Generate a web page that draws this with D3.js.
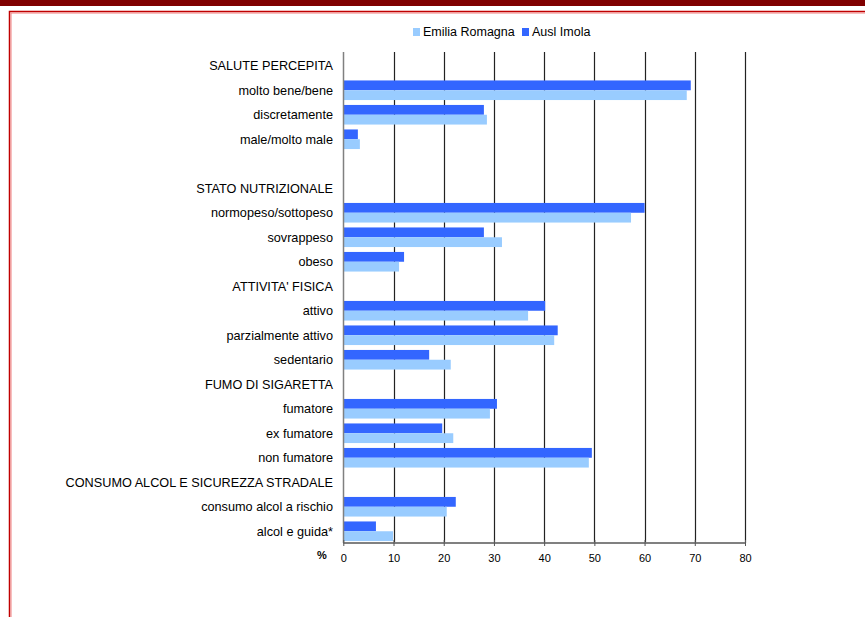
<!DOCTYPE html>
<html>
<head>
<meta charset="utf-8">
<script src="https://cdn.jsdelivr.net/npm/d3@7"></script>
<style>
  body { margin: 0; background: #fff; }
  text { font-family: "Liberation Sans", Arial, sans-serif; fill: #000; }
</style>
</head>
<body>
<svg id="chart" width="865" height="617"></svg>
<script>
// Categories top to bottom (blank row after the first group)
var categories = [
  "SALUTE PERCEPITA", "molto bene/bene", "discretamente", "male/molto male", "",
  "STATO NUTRIZIONALE", "normopeso/sottopeso", "sovrappeso", "obeso",
  "ATTIVITA' FISICA", "attivo", "parzialmente attivo", "sedentario",
  "FUMO DI SIGARETTA", "fumatore", "ex fumatore", "non fumatore",
  "CONSUMO ALCOL E SICUREZZA STRADALE", "consumo alcol a rischio", "alcol e guida*"
];
var auslImola = [null, 69.2, 28.0, 2.9, null, null, 60.0, 28.0, 12.1, null, 40.2, 42.7, 17.1, null, 30.6, 19.7, 49.5, null, 22.4, 6.5];
var emiliaRomagna = [null, 68.4, 28.6, 3.3, null, null, 57.3, 31.6, 11.1, null, 36.8, 42.0, 21.4, null, 29.2, 21.9, 48.9, null, 20.6, 9.9];
var seriesNames = ["Emilia Romagna", "Ausl Imola"];
var xTicks = [0, 10, 20, 30, 40, 50, 60, 70, 80];

var colors = { "Emilia Romagna": "#99ccff", "Ausl Imola": "#3366ff" };

var svg = d3.select('#chart');

// page frame
svg.append('rect').attr('x', 0).attr('y', 0).attr('width', 865).attr('height', 6)
    .attr('fill', '#800000');
svg.append('rect').attr('x', 9.5).attr('y', 11.5).attr('width', 900).attr('height', 700)
    .attr('fill', 'none').attr('stroke', '#c00000').attr('stroke-width', 1.5);
svg.append('rect').attr('x', 11).attr('y', 13).attr('width', 900).attr('height', 700)
    .attr('fill', 'none').attr('stroke', '#f08080').attr('stroke-width', 1);

// scales
var x = d3.scaleLinear().domain([0, 80]).range([343.3, 745]);
var y = d3.scaleBand().domain(d3.range(categories.length)).range([53.5, 543.5])
    .paddingInner(0.2).paddingOuter(0.1);
var ySub = d3.scaleBand().domain(["Ausl Imola", "Emilia Romagna"]).range([0, y.bandwidth()]);

var rows = categories.map(function(c, i) {
    return { i: i, label: c, "Ausl Imola": auslImola[i], "Emilia Romagna": emiliaRomagna[i] };
});

// gridlines
svg.append('g').selectAll('line')
    .data(xTicks.slice(1))
    .enter().append('line')
    .attr('x1', function(d) { return Math.round(x(d)) + 0.5; })
    .attr('x2', function(d) { return Math.round(x(d)) + 0.5; })
    .attr('y1', 52).attr('y2', 543)
    .attr('stroke', '#222').attr('stroke-width', 1.2);

// bars
var bars = svg.append('g');
["Ausl Imola", "Emilia Romagna"].forEach(function(key) {
    bars.selectAll('rect.s' + key.replace(' ', ''))
        .data(rows.filter(function(d) { return d[key] != null; }))
        .enter().append('rect')
        .attr('x', x(0))
        .attr('y', function(d) { return y(d.i) + ySub(key); })
        .attr('width', function(d) { return x(d[key]) - x(0); })
        .attr('height', ySub.bandwidth())
        .attr('fill', colors[key]);
});

// axes
svg.append('line').attr('x1', 343.5).attr('x2', 343.5).attr('y1', 52).attr('y2', 543)
    .attr('stroke', '#808080').attr('stroke-width', 1.5);
var xAxis = d3.axisBottom(x).tickValues(xTicks).tickSize(3).tickPadding(8);
var axisG = svg.append('g').attr('transform', 'translate(0,543)').call(xAxis);
axisG.select('.domain').attr('stroke', '#808080').attr('stroke-width', 2).attr('d', 'M' + x(0) + ',0H' + x(80));
axisG.selectAll('.tick line').attr('stroke', '#555').attr('y1', -3);
axisG.selectAll('.tick text')
    .style('font-family', '"Liberation Sans", Arial, sans-serif')
    .style('font-size', '11px').attr('fill', '#000');
svg.append('text').attr('x', 322).attr('y', 559)
    .attr('text-anchor', 'middle').style('font-size', '11px').style('font-weight', 'bold')
    .text('%');

// category labels
svg.append('g').selectAll('text')
    .data(rows)
    .enter().append('text')
    .attr('x', 333)
    .attr('y', function(d) { return y(d.i) + y.bandwidth() / 2; })
    .attr('dy', '0.35em')
    .attr('text-anchor', 'end')
    .style('font-size', '12.7px')
    .text(function(d) { return d.label; });

// legend
var legendPos = [413, 522];
var legend = svg.append('g').selectAll('g')
    .data(seriesNames)
    .enter().append('g')
    .attr('transform', function(d, i) { return 'translate(' + legendPos[i] + ',32)'; });
legend.append('rect').attr('x', 0).attr('y', -4).attr('width', 7).attr('height', 8)
    .attr('fill', function(d) { return colors[d]; });
legend.append('text').attr('x', 10).attr('dy', '0.35em')
    .style('font-size', '12.5px')
    .text(function(d) { return d; });
</script>
</body>
</html>
